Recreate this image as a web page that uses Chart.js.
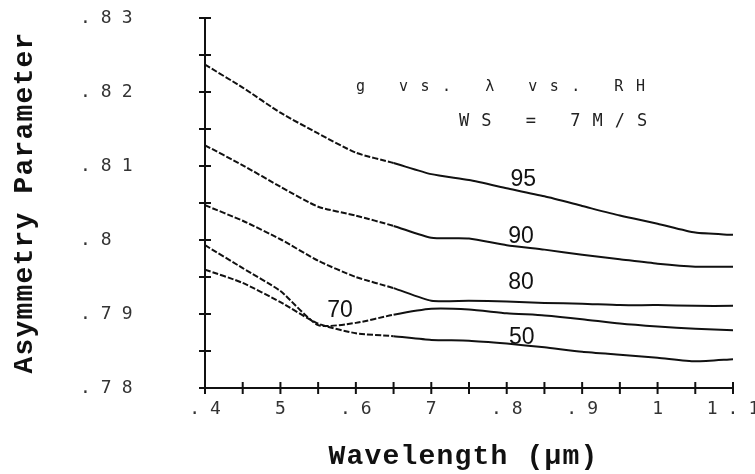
<!DOCTYPE html>
<html>
<head>
<meta charset="utf-8">
<script src="https://cdn.jsdelivr.net/npm/chart.js@4"></script>
<style>
  html, body { margin: 0; padding: 0; background: #fff; }
  #wrap { width: 755px; height: 474px; }
</style>
</head>
<body>
<div id="wrap"><canvas id="cv"></canvas></div>
<script>
// wavelength (um) and asymmetry parameter g for each relative humidity
const wavelength = [0.40, 0.45, 0.50, 0.55, 0.60, 0.65, 0.70, 0.75, 0.80, 0.85, 0.90, 0.95, 1.00, 1.05, 1.10];
const g95 = [0.8237, 0.8206, 0.8172, 0.8144, 0.8118, 0.8104, 0.8089, 0.8081, 0.8070, 0.8059, 0.8046, 0.8033, 0.8022, 0.8010, 0.8007];
const g90 = [0.8128, 0.8101, 0.8072, 0.8045, 0.8033, 0.8019, 0.8003, 0.8002, 0.7993, 0.7987, 0.7980, 0.7974, 0.7968, 0.7964, 0.7964];
const g80 = [0.8047, 0.8026, 0.8001, 0.7972, 0.7950, 0.7935, 0.7918, 0.7918, 0.7917, 0.7915, 0.7914, 0.7912, 0.7912, 0.7911, 0.7911];
const g70 = [0.7993, 0.7962, 0.7931, 0.7885, 0.7888, 0.7899, 0.7907, 0.7906, 0.7901, 0.7898, 0.7893, 0.7887, 0.7883, 0.7880, 0.7878];
const g50 = [0.7960, 0.7942, 0.7916, 0.7887, 0.7874, 0.7870, 0.7865, 0.7864, 0.7860, 0.7855, 0.7849, 0.7845, 0.7841, 0.7836, 0.7839];

const rhNames = ['95', '90', '80', '70', '50'];
// where each RH label sits, in data units (wavelength, g)
const rhLabelX = [0.805, 0.802, 0.802, 0.562, 0.803];
const rhLabelY = [0.8081, 0.8004, 0.7943, 0.7905, 0.7868];

const xTickValues = [0.4, 0.5, 0.6, 0.7, 0.8, 0.9, 1.0, 1.1];
const xTickLabels = ['.4', '5', '.6', '7', '.8', '.9', '1', '1.1'];
const yTickValues = [0.78, 0.79, 0.80, 0.81, 0.82, 0.83];
const yTickLabels = ['.78', '.79', '.8', '.81', '.82', '.83'];

const note1 = 'g vs. λ vs. RH';
const note2 = 'WS = 7M/S';

function toPoints(ys) {
  return wavelength.map((x, i) => ({x: x, y: ys[i]}));
}

const seriesList = [g95, g90, g80, g70, g50];
const datasets = seriesList.map((s, i) => ({
  label: rhNames[i],
  data: toPoints(s),
  borderColor: '#111',
  borderWidth: 2,
  pointRadius: 0,
  tension: 0.2,
  fill: false,
  segment: {
    borderDash: ctx => ctx.p0.parsed.x < 0.65 ? [6, 2] : undefined
  }
}));

const decorations = {
  id: 'decorations',
  afterDraw(chart) {
    const ctx = chart.ctx;
    const xs = chart.scales.x, ys = chart.scales.y;
    const area = chart.chartArea;
    ctx.save();
    ctx.strokeStyle = '#111';
    ctx.lineWidth = 2;
    // cross ticks every 0.005 on y and 0.05 on x
    for (let k = 0; k <= 10; k++) {
      const py = ys.getPixelForValue(0.78 + k * 0.005);
      ctx.beginPath();
      ctx.moveTo(area.left - 6, py);
      ctx.lineTo(area.left + 6, py);
      ctx.stroke();
    }
    for (let k = 0; k <= 14; k++) {
      const px = xs.getPixelForValue(0.4 + k * 0.05);
      ctx.beginPath();
      ctx.moveTo(px, area.bottom - 6);
      ctx.lineTo(px, area.bottom + 6);
      ctx.stroke();
    }

    // tick labels, dot-matrix look
    ctx.fillStyle = '#333';
    ctx.font = '18px "DejaVu Sans Mono"';
    ctx.letterSpacing = '10px';
    ctx.textBaseline = 'middle';
    ctx.textAlign = 'left';
    yTickValues.forEach((v, i) => {
      ctx.fillText(yTickLabels[i], 80, ys.getPixelForValue(v));
    });
    xTickValues.forEach((v, i) => {
      const t = xTickLabels[i];
      const w = ctx.measureText(t).width - 10;
      ctx.fillText(t, xs.getPixelForValue(v) - w / 2, 409);
    });

    // notes
    ctx.fillStyle = '#222';
    ctx.font = '15px "DejaVu Sans Mono"';
    ctx.letterSpacing = '12.5px';
    ctx.fillText(note1, 356, 87);
    ctx.font = '17px "DejaVu Sans Mono"';
    ctx.letterSpacing = '12px';
    ctx.fillText(note2, 459, 122);

    // RH labels
    ctx.letterSpacing = '0px';
    ctx.fillStyle = '#111';
    ctx.font = '23px "Liberation Sans"';
    rhNames.forEach((n, i) => {
      ctx.fillText(n, xs.getPixelForValue(rhLabelX[i]), ys.getPixelForValue(rhLabelY[i]));
    });

    // axis titles
    ctx.font = 'bold 28px "Liberation Mono"';
    ctx.letterSpacing = '1.2px';
    ctx.textAlign = 'left';
    const t1 = 'Wavelength (µm)';
    const w1 = ctx.measureText(t1).width - 1.2;
    ctx.fillText(t1, 463 - w1 / 2, 457);
    const t2 = 'Asymmetry Parameter';
    const w2 = ctx.measureText(t2).width - 1.2;
    ctx.translate(25, (area.top + area.bottom) / 2);
    ctx.rotate(-Math.PI / 2);
    ctx.fillText(t2, -w2 / 2, 0);
    ctx.restore();
  }
};

new Chart(document.getElementById('cv'), {
  type: 'line',
  data: { datasets: datasets },
  options: {
    responsive: true,
    maintainAspectRatio: false,
    animation: false,
    layout: { padding: { left: 0, top: 18, right: 22, bottom: 0 } },
    plugins: {
      legend: { display: false },
      tooltip: { enabled: false }
    },
    scales: {
      x: {
        type: 'linear',
        min: 0.4,
        max: 1.1,
        grid: { display: false },
        border: { display: true, color: '#111', width: 2 },
        ticks: { display: false },
        afterFit: s => { s.height = 86; }
      },
      y: {
        min: 0.78,
        max: 0.83,
        grid: { display: false },
        border: { display: true, color: '#111', width: 2 },
        ticks: { display: false },
        afterFit: s => { s.width = 205; }
      }
    }
  },
  plugins: [decorations]
});
</script>
</body>
</html>
